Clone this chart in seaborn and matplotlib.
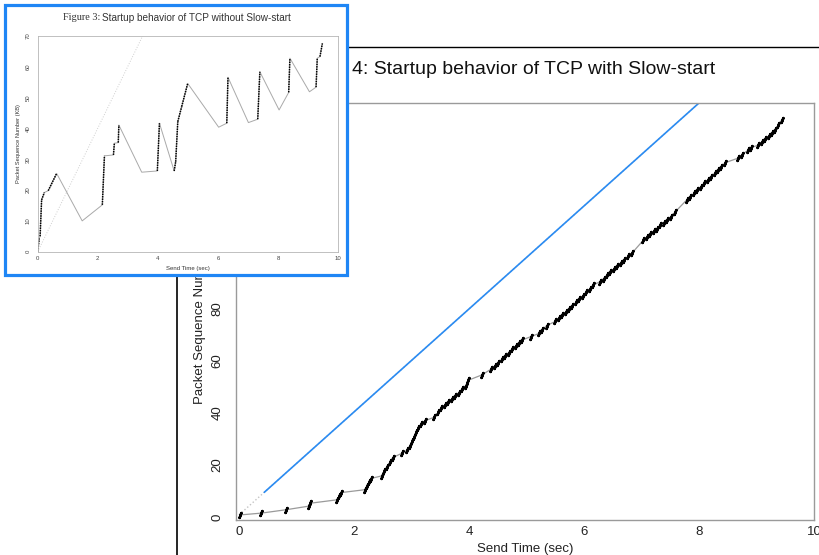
import numpy as np
import pandas as pd
import matplotlib
matplotlib.use("Agg")
import matplotlib.pyplot as plt
import seaborn as sns
from matplotlib.patches import Rectangle

# ---------------- Figure 4 (with Slow-start) ----------------
fig4_time = [
    0.02, 0.39, 0.82, 1.22, 1.24, 1.70, 1.74, 1.78,
    2.19, 2.22, 2.26, 2.29,
    2.48, 2.52, 2.57, 2.62, 2.67, 2.84,
    2.93, 2.97, 3.01, 3.05, 3.08, 3.12, 3.17, 3.23,
    3.40, 3.46, 3.52, 3.58, 3.64, 3.70, 3.76, 3.82, 3.88, 3.94, 3.99,
    4.22,
    4.38, 4.45, 4.51, 4.57, 4.63, 4.69, 4.75, 4.81, 4.87, 4.93,
    5.08, 5.22, 5.27, 5.35,
    5.50, 5.56, 5.62, 5.68, 5.74, 5.80, 5.86, 5.92, 5.98, 6.04, 6.10, 6.16,
    6.28, 6.34, 6.40, 6.46, 6.52, 6.58, 6.64, 6.70, 6.76, 6.84,
    7.03, 7.09, 7.15, 7.21, 7.27, 7.33, 7.39, 7.45, 7.51, 7.58,
    7.79, 7.85, 7.91, 7.97, 8.03, 8.09, 8.15, 8.21, 8.27, 8.33, 8.39, 8.45,
    8.68, 8.74, 8.86, 8.90,
    9.03, 9.09, 9.15, 9.21, 9.27, 9.33, 9.38, 9.44,
]
fig4_seq = [
    0.8, 1.5, 2.8, 4.2, 5.3, 6.6, 8.0, 9.4,
    10.5, 12.0, 13.4, 14.8,
    15.8, 17.5, 19.3, 21.0, 22.8, 24.6,
    25.8, 27.4, 29.1, 30.8, 32.5, 34.2, 35.8, 37.0,
    38.4, 40.2, 41.8, 43.0, 44.2, 45.4, 46.6, 47.8, 49.1, 50.5, 52.6,
    54.6,
    56.8, 58.2, 59.4, 60.7, 62.0, 63.2, 64.5, 65.7, 66.9, 68.1,
    69.4, 70.6, 71.9, 73.6,
    75.2, 76.4, 77.6, 78.8, 80.0, 81.3, 82.6, 83.8, 85.1, 86.4, 87.7, 89.2,
    90.5, 91.7, 93.0, 94.2, 95.4, 96.6, 97.8, 99.0, 100.2, 101.6,
    106.4, 107.5, 108.7, 109.8, 110.9, 112.1, 113.2, 114.4, 115.5, 117.2,
    122.0, 123.2, 124.5, 125.7, 127.0, 128.3, 129.6, 130.9, 132.2, 133.4, 134.7, 136.2,
    138.0, 139.2, 141.2, 142.0,
    143.0, 144.2, 145.3, 146.5, 147.7, 149.0, 150.6, 152.8,
]
fig4_ref_time = [0.0, 8.05]
fig4_ref_seq = [0.8, 160.2]
fig4_blue_time = [0.44, 8.05]
fig4_blue_seq = [9.5, 160.2]
fig4_xticks = [0, 2, 4, 6, 8, 10]
fig4_yticks = [0, 20, 40, 60, 80]   # higher ticks are hidden by the inset
fig4_title = "Figure 4: Startup behavior of TCP with Slow-start"
fig4_xlabel = "Send Time (sec)"
fig4_ylabel = "Packet Sequence Number (KB)"

# ---------------- Figure 3 inset (without Slow-start) ----------------
fig3_time = [0.00, 0.05, 0.08, 0.13, 0.22, 0.35, 0.63, 1.48, 2.15, 2.22,
             2.52, 2.55, 2.68, 2.70, 3.46, 3.98, 4.05, 4.54, 4.59, 4.66,
             4.79, 4.99, 6.02, 6.29, 6.33, 7.01, 7.32, 7.39, 8.03, 8.35,
             8.39, 9.04, 9.26, 9.30, 9.39, 9.47]
fig3_seq = [0.0, 4.3, 5.0, 16.8, 19.2, 19.8, 25.4, 10.0, 15.2, 31.1,
            31.4, 35.2, 35.4, 41.1, 25.8, 26.2, 41.7, 26.2, 29.2, 42.2,
            47.1, 54.6, 40.4, 41.7, 56.6, 41.9, 43.0, 58.4, 46.0, 51.7,
            62.8, 51.9, 53.4, 62.8, 63.3, 67.6]
fig3_burst = [0, 1, 0, 1, 1, 0, 1, 0, 0, 1,
              0, 1, 0, 1, 0, 0, 1, 0, 1, 1,
              1, 1, 0, 0, 1, 0, 0, 1, 0, 0,
              1, 0, 0, 1, 0, 1]
fig3_ref_time = [0.0, 3.49]
fig3_ref_seq = [0.0, 70.0]
fig3_xticks = [0, 2, 4, 6, 8, 10]
fig3_yticks = [0, 10, 20, 30, 40, 50, 60, 70]
fig3_title_a = "Figure 3:"
fig3_title_b = "Startup behavior of TCP without Slow-start"

# ---------------- style ----------------
sns.set_style("white")
plt.rcParams["font.family"] = ["Liberation Sans", "DejaVu Sans"]

W, H = 820, 555
fig = plt.figure(figsize=(W / 100, H / 100), dpi=100)
fig.patch.set_facecolor("white")


def fx(px):
    return px / W


def fy(py):
    return 1 - py / H


# page background layer (rules + big title)
bg = fig.add_axes([0, 0, 1, 1], zorder=1)
bg.set_xlim(0, W)
bg.set_ylim(H, 0)
bg.axis("off")
bg.plot([300, 820], [47, 47], color="black", lw=1.0)
bg.plot([177, 177], [200, 555], color="black", lw=1.2)
bg.text(715, 69, fig4_title, ha="right", va="center", fontsize=14, color="#111111")

# ---------------- big chart ----------------
ax = fig.add_axes([fx(236), fy(520), (814 - 236) / W, (520 - 103) / H], zorder=2)
df4 = pd.DataFrame({"t": fig4_time, "s": fig4_seq})
sns.lineplot(x=fig4_ref_time, y=fig4_ref_seq, ax=ax, color="#c4c4c4", lw=1.0,
             linestyle=":", estimator=None, sort=False)
sns.lineplot(x=fig4_blue_time, y=fig4_blue_seq, ax=ax, color="#2a8bf2", lw=1.2,
             estimator=None, sort=False)
sns.lineplot(data=df4, x="t", y="s", ax=ax, color="#9a9a9a", lw=0.9,
             estimator=None, sort=False)
sns.scatterplot(data=df4, x="t", y="s", ax=ax, marker=(2, 2, -20), s=14,
                color="black", linewidth=1.8, zorder=4)
ax.set_xlim(-0.052, 10.0)
ax.set_ylim(-1.15, 159.2)
ax.set_xticks(fig4_xticks)
ax.set_yticks(fig4_yticks)
ax.set_xlabel(fig4_xlabel, fontsize=9.5, labelpad=3.5, color="#222222")
ax.set_ylabel(fig4_ylabel, fontsize=9.5, labelpad=4, color="#222222")
ax.tick_params(axis="both", direction="in", length=6, width=1.0, color="#9a9a9a",
               labelsize=9.5, labelcolor="#222222")
ax.tick_params(axis="x", pad=4.5)
ax.tick_params(axis="y", pad=9, labelrotation=90)
for lab in ax.get_yticklabels():
    lab.set_va("center")
for sp in ax.spines.values():
    sp.set_color("#9a9a9a")
    sp.set_linewidth(1.0)
    sp.set_visible(True)

# ---------------- inset frame ----------------
axf = fig.add_axes([fx(5), fy(275), (347.5 - 5) / W, (275 - 5) / H], zorder=5)
axf.axis("off")
axf.add_patch(Rectangle((0, 0), 1, 1, transform=axf.transAxes, facecolor="white",
                        edgecolor="#1f86f5", lw=2.3, clip_on=False))
axf.text(fx(100), fy(18), fig3_title_a, transform=fig.transFigure, ha="right",
         va="center", fontsize=7.4, family=["Liberation Serif", "DejaVu Serif"],
         color="#333333")
axf.text(fx(102.5), fy(18), fig3_title_b, transform=fig.transFigure, ha="left",
         va="center", fontsize=7.2, color="#333333")

# ---------------- inset chart ----------------
ax3 = fig.add_axes([fx(37.7), fy(251.7), (338.3 - 37.7) / W, (251.7 - 36) / H],
                   zorder=6)
rows = []
for i in range(1, len(fig3_time)):
    if fig3_burst[i]:
        rows.append((i, fig3_time[i - 1], fig3_seq[i - 1]))
        rows.append((i, fig3_time[i], fig3_seq[i]))
seg_df = pd.DataFrame(rows, columns=["seg", "t", "s"])
sns.lineplot(x=fig3_ref_time, y=fig3_ref_seq, ax=ax3, color="#cfcfcf", lw=0.7,
             linestyle=":", estimator=None, sort=False)
sns.lineplot(x=fig3_time, y=fig3_seq, ax=ax3, color="#a9a9a9", lw=0.7,
             estimator=None, sort=False)
sns.lineplot(data=seg_df, x="t", y="s", units="seg", ax=ax3, color="black",
             lw=1.1, linestyle=(0, (1, 0.6)), estimator=None, sort=False)
ax3.set_xlim(0, 10)
ax3.set_ylim(0, 70)
ax3.set_xticks(fig3_xticks)
ax3.set_yticks(fig3_yticks)
ax3.set_xlabel("Send Time (sec)", fontsize=4.3, labelpad=3.5, color="#333333")
ax3.set_ylabel("Packet Sequence Number (KB)", fontsize=4.1, labelpad=3.5,
               color="#333333")
ax3.tick_params(axis="both", direction="out", length=2, width=0.5, color="#aaaaaa",
                labelsize=4.3, labelcolor="#444444")
ax3.tick_params(axis="x", pad=1.0)
ax3.tick_params(axis="y", pad=3, labelrotation=90)
for lab in ax3.get_yticklabels():
    lab.set_va("center")
for sp in ax3.spines.values():
    sp.set_color("#b5b5b5")
    sp.set_linewidth(0.6)
    sp.set_visible(True)

fig.savefig("out.png", dpi=100, facecolor="white")
